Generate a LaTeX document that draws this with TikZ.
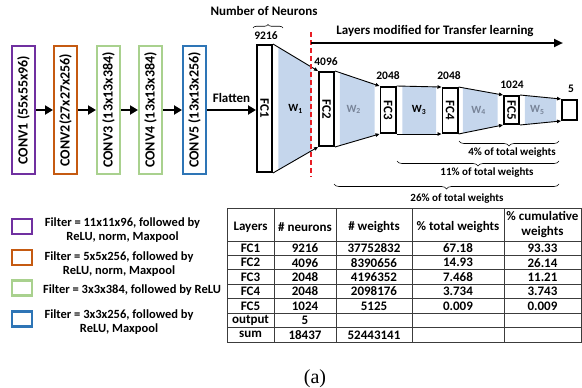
\documentclass[tikz,border=0pt]{standalone}
\usepackage{fontspec}
\setmainfont{Carlito}
\newfontfamily\capfont{Liberation Serif}
\usetikzlibrary{arrows.meta,calc,decorations.pathreplacing}
\definecolor{cpurple}{RGB}{112,48,160}
\definecolor{corange}{RGB}{197,90,17}
\definecolor{cgreen}{RGB}{169,209,142}
\definecolor{cblue}{RGB}{46,117,182}
\definecolor{wfill}{RGB}{197,214,236}
\definecolor{wgray}{RGB}{120,132,152}
\definecolor{cutred}{RGB}{232,30,37}
\definecolor{gridgray}{RGB}{60,60,60}
\begin{document}
\begin{tikzpicture}[x=1pt,y=-1pt,
  font=\bfseries\fontsize{13}{15}\selectfont,
  convbox/.style={draw=#1, line width=2.4pt, fill=white, inner sep=0pt,
    minimum width=22.6pt, minimum height=127.6pt, font=\bfseries\fontsize{14}{16}\selectfont},
  fcbox/.style={draw, line width=1.8pt, fill=white, inner sep=0pt, minimum width=15.2pt},
  chainarrow/.style={line width=2.6pt, -{Triangle[length=8pt,width=9pt]}},
  edgearrow/.style={line width=0.9pt, -{Triangle[length=4pt,width=3.5pt]}},
  wlabel/.style={font=\bfseries\fontsize{11}{13}\selectfont, inner sep=0pt},
  numlabel/.style={font=\bfseries\fontsize{11.5}{13}\selectfont, inner sep=0pt},
  pctlabel/.style={font=\bfseries\fontsize{11}{12}\selectfont, inner sep=0pt},
  bracebelow/.style={decorate, decoration={brace, mirror, amplitude=5pt}, line width=0.6pt},
  legbox/.style={draw=#1, line width=2.2pt, minimum width=20pt, minimum height=15pt, inner sep=0pt},
  legtext/.style={font=\bfseries\fontsize{12.5}{14}\selectfont, align=center, inner sep=0pt},
  cell/.style={font=\bfseries\fontsize{13}{15}\selectfont, inner sep=0pt, align=center}]
\useasboundingbox (0,0) rectangle (582,388);

% convolution stages
\node[convbox=cpurple] (c1) at (23.5,110) {\rotatebox{90}{CONV1 (55x55x96)}};
\node[convbox=corange] (c2) at (65.5,110) {\rotatebox{90}{CONV2(27x27x256)}};
\node[convbox=cgreen]  (c3) at (108.5,110) {\rotatebox{90}{CONV3 (13x13x384)}};
\node[convbox=cgreen]  (c4) at (150.5,110) {\rotatebox{90}{CONV4 (13x13x384)}};
\node[convbox=cblue]   (c5) at (194.5,110) {\rotatebox{90}{CONV5 (13x13x256)}};

% fully connected layers
\node[fcbox, minimum height=127.2pt] (f1) at (264.5,108.5) {\rotatebox{-90}{FC1}};
\node[fcbox, minimum height=74.2pt]  (f2) at (326.5,109) {\rotatebox{-90}{FC2}};
\node[fcbox, minimum height=46.2pt]  (f3) at (388,110) {\rotatebox{-90}{FC3}};
\node[fcbox, minimum height=45.2pt]  (f4) at (450,110.5) {\rotatebox{-90}{FC4}};
\node[fcbox, minimum height=28.2pt]  (f5) at (511.5,110) {\rotatebox{-90}{FC5}};
\node[fcbox, minimum height=20.2pt]  (fo) at (569.5,110) {};

% chain arrows
\draw[chainarrow] (c1) -- (c2);
\draw[chainarrow] (c2) -- (c3);
\draw[chainarrow] (c3) -- (c4);
\draw[chainarrow] (c4) -- (c5);
\draw[chainarrow] (c5.east) -- node[above=6pt, inner sep=0pt] (flat) {Flatten} (f1.west |- c5.east);

% weight blocks between layers
\foreach \a/\b/\s/\e in {f1/f2/.12/.85, f2/f3/.11/.89, f3/f4/.13/.88, f4/f5/.1/.88, f5/fo/.12/.88}{
  \fill[wfill] ($(\a.north east)!\s!(\b.north west)$) -- ($(\a.north east)!\e!(\b.north west)$)
    -- ($(\a.south east)!\e!(\b.south west)$) -- ($(\a.south east)!\s!(\b.south west)$) -- cycle;
  \draw[edgearrow] (\a.north east) -- (\b.north west);
  \draw[edgearrow] (\a.south east) -- (\b.south west);
}
\node[wlabel] (w1) at ($(f1.east)!.5!(f2.west)$) {W\textsubscript{1}};
\node[wlabel, text=wgray] (w2) at ($(f2.east)!.42!(f3.west)$) {W\textsubscript{2}};
\node[wlabel] (w3) at ($(f3.east)!.5!(f4.west)$) {W\textsubscript{3}};
\node[wlabel, text=wgray] (w4) at ($(f4.east)!.45!(f5.west)$) {W\textsubscript{4}};
\node[wlabel, text=wgray] (w5) at ($(f5.east)!.42!(fo.west)$) {W\textsubscript{5}};

% neuron counts
\node (nn) at (264,11) {Number of Neurons};
\coordinate (bl) at (253,28);
\coordinate (br) at (283,28);
\draw[decorate, decoration={brace, amplitude=3.5pt}, line width=0.6pt] (bl) -- (br);
\node[numlabel] (n1) at (266,36) {9216};
\node[numlabel] (n2) at (326,61.5) {4096};
\node[numlabel] (n3) at (388,75.5) {2048};
\node[numlabel] (n4) at (449,75.5) {2048};
\node[numlabel] (n5) at (512,85) {1024};
\node[numlabel] (n6) at (571,89) {5};

% transfer learning boundary
\coordinate (cuttop) at (311,32);
\coordinate (cutbot) at (311,177);
\draw[cutred, line width=1.3pt, dash pattern=on 5pt off 3pt] (cuttop) -- (cutbot);
\coordinate (tlstart) at (311,43);
\coordinate (tlend) at (563,43);
\draw[line width=2.4pt, -{Triangle[length=9pt,width=8pt]}] (tlstart) -- (tlend);
\node (tl) at (435,31) {Layers modified for Transfer learning};

% weight share braces
\coordinate (b4l) at (459,141); \coordinate (b4r) at (559,141);
\coordinate (b11l) at (397,161); \coordinate (b11r) at (559,161);
\coordinate (b26l) at (334,184); \coordinate (b26r) at (559,184);
\draw[bracebelow] (b4l) -- (b4r);
\draw[bracebelow] (b11l) -- (b11r);
\draw[bracebelow] (b26l) -- (b26r);
\node[pctlabel] (p4) at (512,152.5) {4\% of total weights};
\node[pctlabel] (p11) at (487,173) {11\% of total weights};
\node[pctlabel] (p26) at (457,199) {26\% of total weights};

% legend
\node[legbox=cpurple] (l1) at (22,226.5) {};
\node[legbox=corange] (l2) at (22,257.5) {};
\node[legbox=cgreen]  (l3) at (22,288) {};
\node[legbox=cblue]   (l4) at (22,319) {};
\node[legtext] (lt1) at (122.5,230) {Filter = 11x11x96, followed by\\ReLU, norm, Maxpool};
\node[legtext] (lt2) at (119,264.5) {Filter = 5x5x256, followed by\\ReLU, norm, Maxpool};
\node[legtext] (lt3) at (132,290) {Filter = 3x3x384, followed by ReLU};
\node[legtext] (lt4) at (119,322.5) {Filter = 3x3x256, followed by\\ReLU, Maxpool};

% table grid
\foreach \yy in {208,241,255.43,269.86,284.29,298.71,313.14,327.57,342}
  \draw[gridgray, line width=0.8pt] (227,\yy) -- (581.5,\yy);
\foreach \xx in {227,274,336,412,504,581.5}
  \draw[gridgray, line width=0.8pt] (\xx,208) -- (\xx,342);

% table header
\node[cell] (h1) at (250.5,227) {Layers};
\node[cell] (h2) at (305,227) {\# neurons};
\node[cell] (h3) at (374,227) {\# weights};
\node[cell] (h4) at (458,227) {\% total weights};
\node[cell] (h5) at (542.5,225) {\% cumulative\\weights};

% table rows
\foreach \a/\b/\c/\d/\e [count=\i] in {
    FC1/9216/37752832/67.18/93.33,
    FC2/4096/8390656/14.93/26.14,
    FC3/2048/4196352/7.468/11.21,
    FC4/2048/2098176/3.734/3.743,
    FC5/1024/5125/0.009/0.009,
    output/5/{}/{}/{},
    sum/18437/52443141/{}/{}}{
  \pgfmathsetmacro\ry{241+14.43*(\i-0.5)}
  \node[cell] (r\i a) at (250.5,\ry) {\a};
  \node[cell] (r\i b) at (305,\ry) {\b};
  \node[cell] (r\i c) at (374,\ry) {\c};
  \node[cell] (r\i d) at (458,\ry) {\d};
  \node[cell] (r\i e) at (542.5,\ry) {\e};
}

% caption
\node[font=\capfont\fontsize{20}{22}\selectfont, inner sep=0pt] (cap) at (315,379) {(a)};
\end{tikzpicture}
\end{document}
